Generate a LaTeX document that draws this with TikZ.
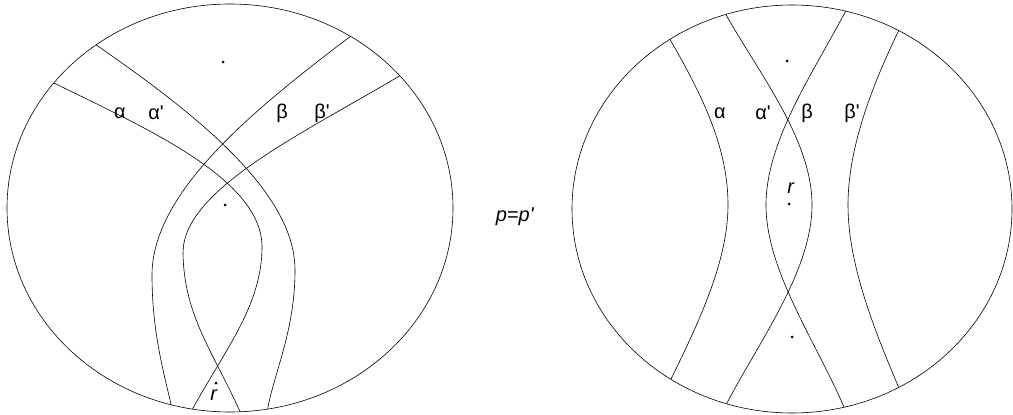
\documentclass[tikz,border=0pt]{standalone}
\usepackage{fontspec}
\setmainfont{Liberation Sans}
\usetikzlibrary{positioning}

\newcommand{\pr}{\textquotesingle}

\begin{document}
\begin{tikzpicture}[
    x=1pt, y=-1pt,
    line/.style={draw, line width=0.6pt},
    lbl/.style={font=\fontsize{20}{23}\selectfont, inner sep=0pt},
    pt/.style={circle, fill, inner sep=0pt, minimum size=3pt}
]
    \useasboundingbox (0,0) rectangle (1013,415);

    % Discs
    \draw[line] (230,208) ellipse [x radius=223, y radius=204];
    \draw[line] (792,209) ellipse [x radius=220, y radius=204];

    % End points on the left disc
    \coordinate (lta)  at ({230+223*cos(142.2)},{208-204*sin(142.2)});
    \coordinate (ltap) at ({230+223*cos(126.9)},{208-204*sin(126.9)});
    \coordinate (ltb)  at ({230+223*cos(57.3)},{208-204*sin(57.3)});
    \coordinate (ltbp) at ({230+223*cos(40.4)},{208-204*sin(40.4)});
    \coordinate (lba)  at ({230+223*cos(260.3)},{208-204*sin(260.3)});
    \coordinate (lbap) at ({230+223*cos(279.7)},{208-204*sin(279.7)});
    \coordinate (lbb)  at ({230+223*cos(254.7)},{208-204*sin(254.7)});
    \coordinate (lbbp) at ({230+223*cos(272.6)},{208-204*sin(272.6)});

    % End points on the right disc
    \coordinate (rta)  at ({792+220*cos(123.7)},{209-204*sin(123.7)});
    \coordinate (rtap) at ({792+220*cos(107.5)},{209-204*sin(107.5)});
    \coordinate (rtb)  at ({792+220*cos(75.9)},{209-204*sin(75.9)});
    \coordinate (rtbp) at ({792+220*cos(61)},{209-204*sin(61)});
    \coordinate (rba)  at ({792+220*cos(236.6)},{209-204*sin(236.6)});
    \coordinate (rbap) at ({792+220*cos(252.7)},{209-204*sin(252.7)});
    \coordinate (rbb)  at ({792+220*cos(283.7)},{209-204*sin(283.7)});
    \coordinate (rbbp) at ({792+220*cos(299)},{209-204*sin(299)});

    % Curves, left disc
    \draw[line] (lta) .. controls (150,130) and (262,180) .. (262,247)
                      .. controls (262,305) and (225,350) .. (lba);
    \draw[line] (ltap) .. controls (190,110) and (295,190) .. (295,270)
                       .. controls (295,330) and (275,370) .. (lbap);
    \draw[line] (ltb) .. controls (260,105) and (152,190) .. (152,275)
                      .. controls (152,330) and (163,370) .. (lbb);
    \draw[line] (ltbp) .. controls (300,135) and (183,190) .. (183,253)
                       .. controls (184,315) and (212,350) .. (lbbp);

    % Curves, right disc
    \draw[line] (rta) .. controls (705,100) and (728,150) .. (728,205)
                      .. controls (728,260) and (700,320) .. (rba);
    \draw[line] (rtap) .. controls (760,75) and (812,140) .. (812,205)
                       .. controls (812,270) and (760,340) .. (rbap);
    \draw[line] (rtb) .. controls (815,70) and (766,140) .. (766,205)
                      .. controls (766,270) and (815,340) .. (rbb);
    \draw[line] (rtbp) .. controls (870,90) and (848,150) .. (848,205)
                       .. controls (848,260) and (870,320) .. (rbbp);

    % Points
    \node[pt] (lp1) at (223,62) {};
    \node[pt] (lp2) at (225,205) {};
    \node[pt] (lp3) at (216,383) {};
    \node[pt] (rp1) at (787,61) {};
    \node[pt] (rp2) at (789,204) {};
    \node[pt] (rp3) at (792,337) {};

    % Labels
    \node[lbl] (la)  at (120,113) {α};
    \node[lbl] (lap) at (156,113) {α\pr};
    \node[lbl] (lb)  at (282,113) {β};
    \node[lbl] (lbp) at (322,113) {β\pr};
    \node[lbl] (lr)  at (214,395) {\textit{r}};
    \node[lbl] (ra)  at (720,113) {α};
    \node[lbl] (rap) at (763,113) {α\pr};
    \node[lbl] (rb)  at (807,113) {β};
    \node[lbl] (rbp) at (852,113) {β\pr};
    \node[lbl] (rr)  at (791,188) {\textit{r}};
    \node[lbl] (eq)  at (515,217) {\textit{p=p\pr}};
\end{tikzpicture}
\end{document}
